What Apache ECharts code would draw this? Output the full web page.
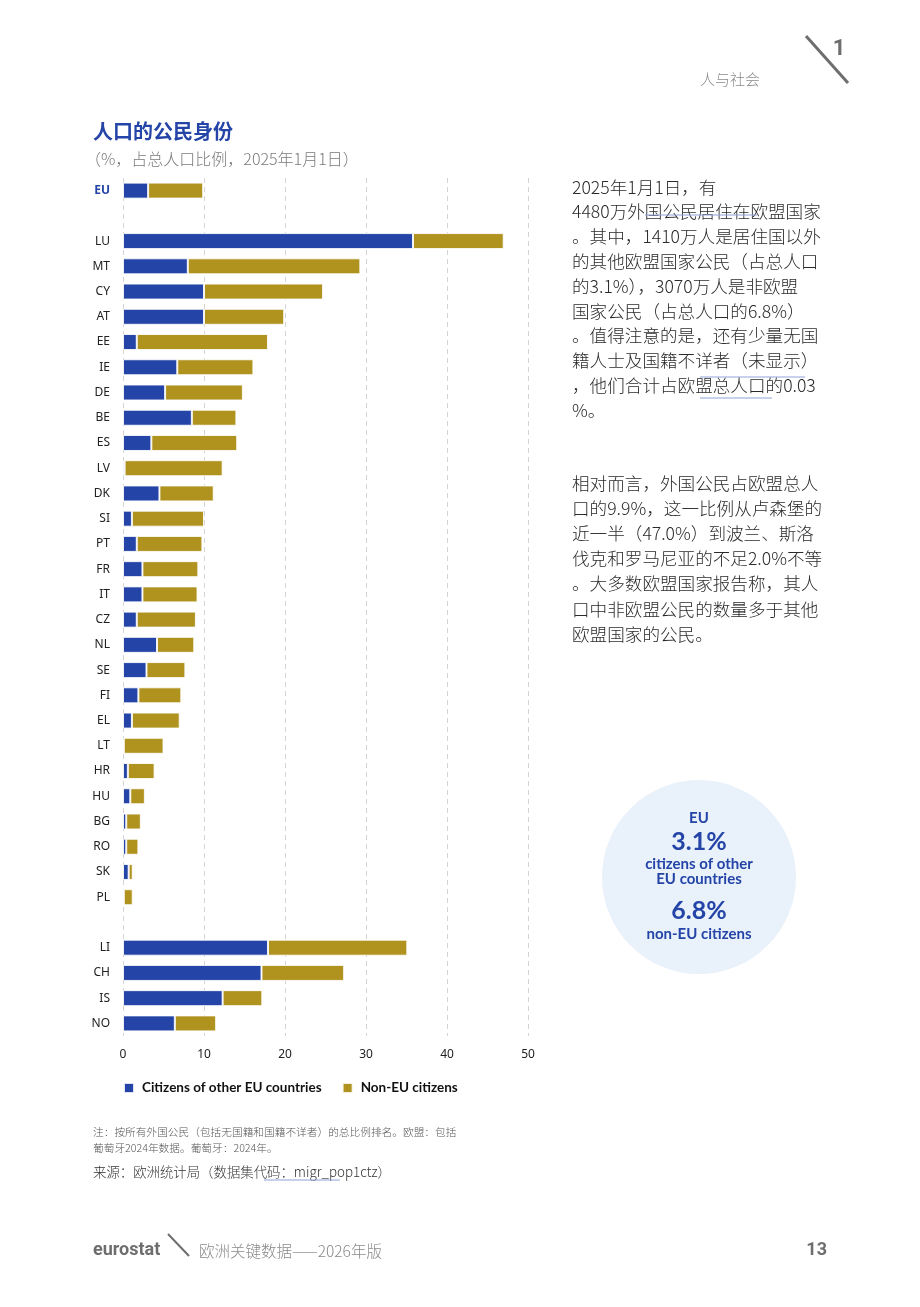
<!DOCTYPE html>
<html>
<head>
<meta charset="utf-8">
<script src="https://cdn.jsdelivr.net/npm/echarts@6/dist/echarts.min.js"></script>
<style>
  html, body { margin: 0; padding: 0; background: #fff; }
  #main { width: 920px; height: 1307px; }
</style>
</head>
<body>
<div id="main"></div>
<script>
// 国家代码（空字符串为分组间隔）
var countries = ['EU', ' ', 'LU', 'MT', 'CY', 'AT', 'EE', 'IE', 'DE', 'BE', 'ES', 'LV', 'DK', 'SI', 'PT',
    'FR', 'IT', 'CZ', 'NL', 'SE', 'FI', 'EL', 'LT', 'HR', 'HU', 'BG', 'RO', 'SK', 'PL', '  ',
    'LI', 'CH', 'IS', 'NO'];
// 其他欧盟国家公民 (%)
var euCitizens = [3.1, '-', 35.8, 8.0, 10.0, 10.0, 1.7, 6.7, 5.2, 8.5, 3.5, 0.2, 4.5, 1.1, 1.7,
    2.4, 2.4, 1.7, 4.2, 2.9, 1.9, 1.1, 0.1, 0.6, 0.9, 0.4, 0.4, 0.7, 0.1, '-',
    17.9, 17.1, 12.3, 6.4];
// 非欧盟公民 (%)
var nonEuCitizens = [6.8, '-', 11.2, 21.3, 14.7, 9.9, 16.2, 9.4, 9.6, 5.5, 10.6, 12.1, 6.7, 8.9, 8.1,
    6.9, 6.8, 7.3, 4.6, 4.8, 5.3, 5.9, 4.9, 3.3, 1.8, 1.8, 1.5, 0.5, 1.1, '-',
    17.2, 10.2, 4.9, 5.1];
var xTicks = [0, 10, 20, 30, 40, 50];

var textLines1 = [
    '2025年1月1日，有',
    '4480万外国公民居住在欧盟国家',
    '。其中，1410万人是居住国以外',
    '的其他欧盟国家公民（占总人口',
    '的3.1%），3070万人是非欧盟',
    '国家公民（占总人口的6.8%）',
    '。值得注意的是，还有少量无国',
    '籍人士及国籍不详者（未显示）',
    '，他们合计占欧盟总人口的0.03',
    '%。'
];
var textLines2 = [
    '相对而言，外国公民占欧盟总人',
    '口的9.9%，这一比例从卢森堡的',
    '近一半（47.0%）到波兰、斯洛',
    '伐克和罗马尼亚的不足2.0%不等',
    '。大多数欧盟国家报告称，其人',
    '口中非欧盟公民的数量多于其他',
    '欧盟国家的公民。'
];

var BLUE = '#2445a7';
var GOLD = '#b0921f';
var CJK = '"Noto Sans CJK SC", "Noto Sans", sans-serif';

var myChart = echarts.init(document.getElementById('main'));

var graphics = [];
// 页眉
graphics.push({ type: 'text', style: { text: '人与社会', x: 760, y: 79, fill: '#8a8a8a', font: '300 15px ' + CJK, textAlign: 'right', textVerticalAlign: 'middle' } });
graphics.push({ type: 'line', shape: { x1: 806, y1: 36, x2: 848, y2: 83 }, style: { stroke: '#6e6e6e', lineWidth: 3 } });
graphics.push({ type: 'text', style: { text: '1', x: 839, y: 49, fill: '#6e6e6e', font: 'bold 22px Roboto, sans-serif', textAlign: 'center', textVerticalAlign: 'middle' } });
// 标题
graphics.push({ type: 'text', style: { text: '人口的公民身份', x: 93, y: 131, fill: BLUE, font: 'bold 20px ' + CJK, textVerticalAlign: 'middle' } });
graphics.push({ type: 'text', style: { text: '（%，占总人口比例，2025年1月1日）', x: 85, y: 159, fill: '#7a7a7a', font: '300 16px ' + CJK, textVerticalAlign: 'middle' } });
// 右侧正文
textLines1.forEach(function (t, i) {
    graphics.push({ type: 'text', style: { text: t, x: 572, y: 187 + i * 24.8, fill: '#2a2a2a', font: '300 17.6px ' + CJK, textVerticalAlign: 'middle' } });
});
textLines2.forEach(function (t, i) {
    graphics.push({ type: 'text', style: { text: t, x: 572, y: 483 + i * 25.2, fill: '#2a2a2a', font: '300 17.6px ' + CJK, textVerticalAlign: 'middle' } });
});
// 链接下划线
[[645, 215, 757], [700, 377, 805], [700, 398, 772]].forEach(function (u) {
    graphics.push({ type: 'line', shape: { x1: u[0], y1: u[1], x2: u[2], y2: u[1] }, style: { stroke: '#8fa3d6', lineWidth: 1 } });
});
// 圆形信息框
graphics.push({ type: 'circle', shape: { cx: 699, cy: 877, r: 97 }, style: { fill: '#e9f1fb' } });
var circleTexts = [
    ['EU', 818, 'bold 15px'],
    ['3.1%', 842, 'bold 25px'],
    ['citizens of other', 864, 'bold 15px'],
    ['EU countries', 879, 'bold 15px'],
    ['6.8%', 911, 'bold 25px'],
    ['non-EU citizens', 934, 'bold 15px']
];
circleTexts.forEach(function (c) {
    graphics.push({ type: 'text', style: { text: c[0], x: 699, y: c[1], fill: BLUE, font: c[2] + ' Lato, Roboto, sans-serif', textAlign: 'center', textVerticalAlign: 'middle' } });
});
// 注释与来源
graphics.push({ type: 'text', style: { text: '注：按所有外国公民（包括无国籍和国籍不详者）的总比例排名。欧盟：包括', x: 93, y: 1132, fill: '#555', font: '300 10.7px ' + CJK, textVerticalAlign: 'middle' } });
graphics.push({ type: 'text', style: { text: '葡萄牙2024年数据。葡萄牙：2024年。', x: 93, y: 1148, fill: '#555', font: '300 10.7px ' + CJK, textVerticalAlign: 'middle' } });
graphics.push({ type: 'text', style: { text: '来源：欧洲统计局（数据集代码：migr_pop1ctz）', x: 93, y: 1172, fill: '#333', font: '300 13.4px ' + CJK, textVerticalAlign: 'middle' } });
graphics.push({ type: 'line', shape: { x1: 264, y1: 1180, x2: 340, y2: 1180 }, style: { stroke: '#8fa3d6', lineWidth: 1 } });
// 页脚
graphics.push({ type: 'text', style: { text: 'eurostat', x: 93, y: 1250, fill: '#6e6e6e', font: 'bold 18px Roboto, sans-serif', textVerticalAlign: 'middle' } });
graphics.push({ type: 'line', shape: { x1: 168, y1: 1234, x2: 189, y2: 1256 }, style: { stroke: '#6e6e6e', lineWidth: 2 } });
graphics.push({ type: 'text', style: { text: '欧洲关键数据——2026年版', x: 199, y: 1251, fill: '#8a8a8a', font: '300 15.5px ' + CJK, textVerticalAlign: 'middle' } });
graphics.push({ type: 'text', style: { text: '13', x: 827, y: 1250, fill: '#6e6e6e', font: 'bold 18px Roboto, sans-serif', textAlign: 'right', textVerticalAlign: 'middle' } });

var option = {
    animation: false,
    backgroundColor: '#fff',
    grid: { left: 123, right: 392, top: 178, bottom: 271, containLabel: false },
    legend: {
        left: 118, top: 1076,
        icon: 'rect', itemWidth: 10, itemHeight: 10, itemGap: 20,
        textStyle: { fontFamily: 'Lato, Roboto, sans-serif', fontWeight: 'bold', fontSize: 13.5, color: '#111', padding: [0, 0, 0, 3] },
        data: ['Citizens of other EU countries', 'Non-EU citizens']
    },
    xAxis: {
        type: 'value', min: 0, max: 50, interval: 10,
        axisLine: { show: false }, axisTick: { show: false },
        axisLabel: { color: '#222', fontSize: 12, margin: 13, fontFamily: '"Noto Sans", sans-serif',
            formatter: function (v) { return xTicks.indexOf(v) >= 0 ? v : ''; } },
        splitLine: { show: true, lineStyle: { type: [5, 4], color: '#d4d4d4', width: 1 } }
    },
    yAxis: {
        type: 'category', inverse: true, data: countries,
        axisLine: { show: false }, axisTick: { show: false },
        axisLabel: {
            color: '#222', fontSize: 12, margin: 13, fontFamily: '"Noto Sans", sans-serif',
            formatter: function (v) { return v === 'EU' ? '{eu|EU}' : v; },
            rich: { eu: { color: BLUE, fontWeight: 'bold', fontSize: 12 } }
        }
    },
    series: [
        {
            name: 'Citizens of other EU countries', type: 'bar', stack: 'total', barWidth: 16,
            itemStyle: { color: BLUE, borderColor: 'rgba(255,255,255,0.85)', borderWidth: 1 },
            data: euCitizens
        },
        {
            name: 'Non-EU citizens', type: 'bar', stack: 'total', barWidth: 16,
            itemStyle: { color: GOLD, borderColor: 'rgba(255,255,255,0.85)', borderWidth: 1 },
            data: nonEuCitizens
        }
    ],
    graphic: graphics
};
myChart.setOption(option);
</script>
</body>
</html>
